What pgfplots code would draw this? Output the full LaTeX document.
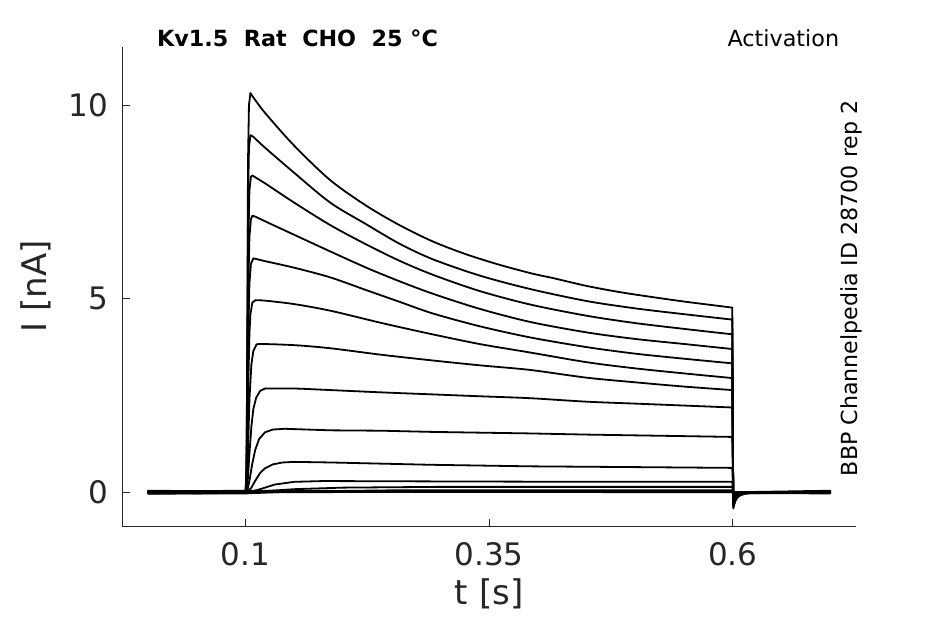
\documentclass[border=0pt]{standalone}
\usepackage{pgfplots}
\pgfplotsset{compat=1.18}
\usepackage{fontspec}
\setmainfont{DejaVu Sans}
\definecolor{axgray}{RGB}{38,38,38}
\pgfplotsset{trace/.style={black, line width=1.35pt, no marks, line join=round, line cap=round},
 strace/.style={trace, smooth, tension=0.5}}
\begin{document}
\begin{tikzpicture}
\useasboundingbox (-91.7pt,-73.3pt) rectangle (617.0pt,394.7pt);
\begin{axis}[
 at={(0,0)}, anchor=south west,
 scale only axis, width=550.3pt, height=359.7pt,
 xmin=-0.0265, xmax=0.7265, ymin=-0.879, ymax=11.51,
 axis lines*=left,
 axis line style={-, color=axgray, line width=0.6pt},
 tick align=inside, major tick length=5.5pt,
 tick style={color=axgray, line width=0.6pt},
 xtick={0.1,0.35,0.6}, xticklabels={0.1,0.35,0.6},
 ytick={0,5,10}, yticklabels={0,5,10},
 minor tick num=0,
 tick label style={font=\fontsize{23.25}{28}\selectfont, text=axgray},
 x tick label style={yshift=-8.5pt},
 y tick label style={xshift=-7pt},
 xlabel={t [s]}, ylabel={I [nA]},
 every axis x label/.style={at={([yshift=-58.3pt]axis description cs:0.5,0)}, anchor=base, font=\fontsize{25.5}{30}\selectfont, text=axgray},
 every axis y label/.style={at={([xshift=-56.5pt]axis description cs:0,0.5)}, rotate=90, anchor=base, font=\fontsize{25.5}{30}\selectfont, text=axgray},
 clip=false,
]
% T1
\addplot[trace] coordinates {(0,0.02)(0.05,0.01)(0.1,0.02)(0.101,0.6)(0.102,5.0)(0.1025,8.5)(0.1035,10.0)(0.105,10.31)};
\addplot[strace] coordinates {(0.105,10.31)(0.108,10.2)(0.12,9.8)(0.15,8.95)(0.187,8.06)(0.224,7.40)(0.258,6.90)(0.292,6.48)(0.326,6.15)(0.36,5.88)(0.394,5.65)(0.416,5.53)(0.45,5.33)(0.484,5.17)(0.518,5.04)(0.552,4.92)(0.5995,4.77)};
\addplot[trace] coordinates {(0.5995,4.77)(0.6005,-0.42)(0.6015,-0.32)(0.603,-0.2)(0.606,-0.1)(0.612,-0.04)(0.625,0)(0.7,0.01)};
% T2
\addplot[trace] coordinates {(0,-0.02)(0.05,-0.01)(0.1,-0.01)(0.101,0.45)(0.102,4.4)(0.1025,7.4)(0.1035,8.9)(0.105,9.22)};
\addplot[strace] coordinates {(0.105,9.22)(0.108,9.18)(0.12,8.9)(0.15,8.25)(0.187,7.48)(0.224,6.92)(0.258,6.42)(0.292,6.02)(0.34,5.6)(0.392,5.25)(0.45,4.94)(0.5,4.75)(0.55,4.6)(0.5995,4.46)};
\addplot[trace] coordinates {(0.5995,4.46)(0.6005,-0.38)(0.6015,-0.29)(0.603,-0.18)(0.606,-0.09)(0.612,-0.03)(0.625,0)(0.7,-0.01)};
% T3
\addplot[trace] coordinates {(0,0.01)(0.05,0.02)(0.1,0.01)(0.101,0.35)(0.102,3.8)(0.103,6.6)(0.104,7.8)(0.1055,8.15)(0.107,8.18)};
\addplot[strace] coordinates {(0.107,8.18)(0.12,7.98)(0.15,7.48)(0.187,6.9)(0.224,6.4)(0.258,5.98)(0.292,5.62)(0.34,5.2)(0.392,4.85)(0.45,4.56)(0.5,4.37)(0.55,4.22)(0.5995,4.08)};
\addplot[trace] coordinates {(0.5995,4.08)(0.6005,-0.35)(0.6015,-0.27)(0.603,-0.17)(0.606,-0.08)(0.612,-0.03)(0.625,0)(0.7,0.01)};
% T4
\addplot[trace] coordinates {(0,-0.01)(0.05,-0.02)(0.1,-0.01)(0.101,0.3)(0.102,3.0)(0.103,5.5)(0.104,6.6)(0.1055,7.05)(0.107,7.14)};
\addplot[strace] coordinates {(0.107,7.14)(0.11,7.12)(0.12,7.0)(0.15,6.65)(0.187,6.22)(0.224,5.8)(0.258,5.45)(0.292,5.13)(0.34,4.74)(0.392,4.4)(0.45,4.13)(0.5,3.96)(0.55,3.83)(0.5995,3.7)};
\addplot[trace] coordinates {(0.5995,3.7)(0.6005,-0.32)(0.6015,-0.25)(0.603,-0.15)(0.606,-0.07)(0.612,-0.02)(0.625,0)(0.7,0)};
% T5
\addplot[trace] coordinates {(0,0.03)(0.05,0.02)(0.1,0.02)(0.101,0.2)(0.102,2.2)(0.103,4.3)(0.104,5.4)(0.1055,5.9)(0.108,6.04)};
\addplot[strace] coordinates {(0.108,6.04)(0.112,6.02)(0.12,5.97)(0.15,5.8)(0.187,5.55)(0.224,5.22)(0.258,4.92)(0.292,4.62)(0.34,4.29)(0.392,4.0)(0.45,3.75)(0.5,3.58)(0.55,3.45)(0.5995,3.33)};
\addplot[trace] coordinates {(0.5995,3.33)(0.6005,-0.28)(0.6015,-0.22)(0.603,-0.13)(0.606,-0.06)(0.612,-0.02)(0.625,0)(0.7,0.02)};
% T6
\addplot[trace] coordinates {(0,-0.03)(0.05,-0.02)(0.1,-0.02)(0.101,0.1)(0.102,1.2)(0.103,3.0)(0.104,4.1)(0.105,4.6)(0.107,4.9)(0.11,4.96)};
\addplot[strace] coordinates {(0.11,4.96)(0.12,4.95)(0.15,4.86)(0.187,4.69)(0.24,4.37)(0.29,4.09)(0.34,3.83)(0.392,3.61)(0.45,3.36)(0.5,3.2)(0.55,3.07)(0.5995,2.95)};
\addplot[trace] coordinates {(0.5995,2.95)(0.6005,-0.25)(0.6015,-0.19)(0.603,-0.11)(0.606,-0.05)(0.612,-0.02)(0.625,0)(0.7,-0.02)};
% T7
\addplot[trace] coordinates {(0,0.0)(0.05,0.01)(0.1,0.0)(0.101,0.05)(0.102,0.5)(0.103,1.5)(0.104,2.4)(0.106,3.3)(0.108,3.65)(0.111,3.8)};
\addplot[strace] coordinates {(0.111,3.8)(0.115,3.83)(0.15,3.8)(0.187,3.72)(0.24,3.55)(0.29,3.41)(0.34,3.28)(0.392,3.16)(0.45,2.96)(0.5,2.84)(0.55,2.73)(0.5995,2.64)};
\addplot[trace] coordinates {(0.5995,2.64)(0.6005,-0.22)(0.6015,-0.17)(0.603,-0.1)(0.606,-0.05)(0.612,-0.02)(0.625,0)(0.7,0)};
% T8
\addplot[trace] coordinates {(0,0.02)(0.05,0.0)(0.1,0.01)(0.101,0.02)(0.102,0.2)(0.104,1.0)(0.106,1.7)(0.108,2.15)(0.111,2.45)(0.115,2.62)(0.12,2.68)};
\addplot[strace] coordinates {(0.12,2.68)(0.15,2.68)(0.187,2.64)(0.24,2.58)(0.29,2.53)(0.34,2.48)(0.392,2.43)(0.45,2.34)(0.5,2.29)(0.55,2.24)(0.5995,2.19)};
\addplot[trace] coordinates {(0.5995,2.19)(0.6005,-0.18)(0.6015,-0.14)(0.603,-0.08)(0.606,-0.04)(0.612,-0.01)(0.625,0)(0.7,0.01)};
% T9
\addplot[trace] coordinates {(0,-0.01)(0.05,-0.03)(0.1,-0.01)(0.102,0.05)(0.104,0.3)(0.107,0.75)(0.11,1.1)(0.114,1.38)(0.12,1.55)(0.128,1.62)(0.14,1.64)(0.187,1.6)(0.24,1.59)(0.29,1.56)(0.34,1.54)(0.392,1.52)(0.45,1.49)(0.5,1.47)(0.55,1.45)(0.5995,1.43)(0.6005,-0.12)(0.6015,-0.09)(0.603,-0.05)(0.606,-0.02)(0.615,0)(0.7,-0.01)};
% T10
\addplot[trace] coordinates {(0,0.01)(0.05,0.02)(0.1,0.0)(0.103,0.03)(0.106,0.12)(0.11,0.3)(0.115,0.5)(0.12,0.62)(0.128,0.72)(0.138,0.77)(0.15,0.785)(0.187,0.77)(0.29,0.71)(0.392,0.67)(0.5,0.65)(0.5995,0.63)(0.6005,-0.06)(0.603,-0.03)(0.61,0)(0.7,0)};
% T11
\addplot[trace] coordinates {(0,-0.02)(0.05,-0.01)(0.1,-0.02)(0.105,0.01)(0.115,0.08)(0.13,0.2)(0.15,0.27)(0.18,0.29)(0.3,0.28)(0.45,0.27)(0.5995,0.27)(0.6005,-0.02)(0.605,0)(0.7,-0.02)};
% T12
\addplot[trace] coordinates {(0,0.03)(0.05,0.02)(0.1,0.0)(0.12,0.03)(0.15,0.08)(0.2,0.12)(0.3,0.14)(0.5995,0.14)(0.6005,0.0)(0.7,0.0)};
% T13
\addplot[trace] coordinates {(0,-0.04)(0.05,-0.03)(0.1,-0.03)(0.15,0.02)(0.25,0.05)(0.5995,0.05)(0.6005,-0.02)(0.7,-0.03)};
% T14
\addplot[trace] coordinates {(0,0.0)(0.05,-0.01)(0.1,0.0)(0.3,0.01)(0.5995,0.0)(0.6005,-0.03)(0.7,0.0)};
% T15
\addplot[trace] coordinates {(0,0.04)(0.05,0.03)(0.1,0.04)(0.3,0.03)(0.5995,0.03)(0.6005,0.0)(0.7,0.04)};
\node[anchor=base west, inner sep=0pt, font=\fontsize{16.7}{20}\selectfont\bfseries, text=black] at ([xshift=26pt]rel axis cs:0,1) {Kv1.5\ \ Rat\ \ CHO\ \ 25 °C};
\node[anchor=base east, inner sep=0pt, font=\fontsize{16.7}{20}\selectfont, text=black] at ([xshift=-12.5pt]rel axis cs:1,1) {Activation};
\node[rotate=90, anchor=base, inner sep=0pt, font=\fontsize{16.6}{20}\selectfont, text=black] at ([xshift=0.75pt,yshift=-1.4pt]rel axis cs:1,0.5) {BBP Channelpedia ID 28700 rep 2};
\end{axis}
\end{tikzpicture}
\end{document}
